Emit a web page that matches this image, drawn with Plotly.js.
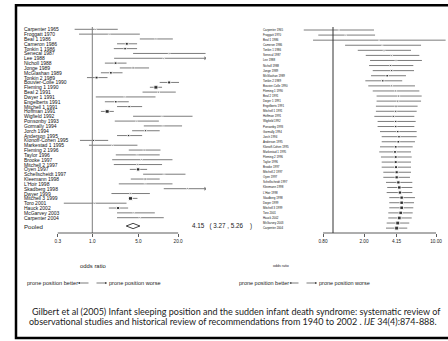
<!DOCTYPE html>
<html><head><meta charset="utf-8">
<script src="https://cdn.plot.ly/plotly-3.0.1.min.js"></script>
<style>html,body{margin:0;padding:0;background:#fff;}#chart{width:448px;height:341px;}</style>
</head><body><div id="chart"></div>
<script>
// ---------------- data ----------------
const studies = ["Carpenter 1965","Froggatt 1970","Beal 1 1986","Cameron 1986","Tonkin 1 1986","Senecal 1987","Lee 1988","Nicholl 1988","Jonge 1989","McGlashan 1989","Tonkin 2 1989","Bouvier-Colle 1990","Fleming 1 1990","Beal 2 1991","Dwyer 1 1991","Engelberts 1991","Mitchell 1 1991","Hoffman 1991","Wigfield 1992","Ponsonby 1993","Gormally 1994","Jorch 1994","Anderson 1995","Klonoff-Cohen 1995","Markestad 1 1995","Fleming 2 1996","Taylor 1996","Brooke 1997","Mitchell 2 1997","Oyen 1997","Schellscheidt 1997","Kleemann 1998","L'Hoir 1998","Skadberg 1998","Dwyer 1999","Mitchell 3 1999","Toro 2001","Hauck 2002","McGarvey 2003","Carpenter 2004"];
// individual study odds ratios (left panel)
const orStudy = [1.13,1.80,9.2,3.33,3.14,14.6,12.1,2.25,4.15,1.91,1.16,14.6,9.2,10.1,3.11,2.27,3.61,1.68,11.4,4.67,11.8,6.40,3.54,1.04,2.02,6.10,4.77,5.56,4.83,4.94,12.2,6.31,6.31,27.7,3.79,3.79,1.08,2.46,4.25,5.25];
const loStudy = [0.54,0.63,5.25,2.37,2.12,4.15,2.14,1.55,2.61,1.35,0.83,10.5,7.45,5.77,1.13,1.55,2.37,1.35,4.15,2.19,6.03,4.01,2.37,0.65,0.89,3.57,2.27,2.00,2.12,3.70,5.89,3.83,2.52,12.1,1.95,3.50,0.37,1.78,2.37,2.37];
const hiStudy = [2.43,5.25,16.6,4.77,4.77,52,70,3.30,7.24,2.87,1.70,20.6,11.4,18.4,9.07,3.57,5.69,2.12,33,10.2,22.9,10.5,5.69,1.74,4.83,10.8,10.5,16.4,11.4,6.77,25.8,10.5,16.4,65,7.45,4.83,3.30,3.49,8.85,12.1];
// pooled estimate [OR, lower, upper]
const pooledEst = [4.15, 3.27, 5.26];
// cumulative meta-analysis (right panel)
const orCum = [1.14,1.33,2.80,3.01,3.13,3.71,4.09,3.63,3.71,3.36,3.04,3.71,4.06,4.34,4.25,4.09,4.06,3.85,4.06,4.06,4.25,4.37,4.31,4.06,4.00,4.06,4.06,4.09,4.15,4.15,4.31,4.40,4.47,4.64,4.64,4.64,4.54,4.40,4.25,4.15];
const loCum = [0.52,0.72,0.64,1.31,1.74,2.08,2.29,2.24,2.43,2.34,2.06,2.20,2.43,2.65,2.65,2.61,2.61,2.52,2.71,2.71,2.86,2.97,2.97,2.86,2.81,2.92,2.97,2.97,3.08,3.08,3.27,3.36,3.32,3.52,3.52,3.52,3.44,3.44,3.32,3.27];
const hiCum = [2.50,2.56,12.4,7.16,5.72,6.89,7.30,6.02,6.12,5.11,4.70,6.25,6.89,7.26,7.16,6.63,6.49,6.16,6.35,6.16,6.49,6.49,6.25,5.94,5.72,5.81,5.72,5.72,5.72,5.59,5.89,5.89,5.89,6.25,6.12,6.02,5.94,5.81,5.50,5.26];
const tickValsLeft = [0.3, 1, 5, 20];
const tickTextLeft = ["0.3","1.0","5.0","20.0"];
const tickValsRight = [0.8, 2, 4.15, 10];
const tickTextRight = ["0.80","2.00","4.15","10.00"];

// ---------------- layout helpers ----------------
const W = 448, H = 341;
const px = v => v / W;
const py = v => 1 - v / H;
const SANS = "Liberation Sans, Arial, sans-serif";
const n = studies.length;
const rows = studies.map((_, i) => i + 1);
const pooledRow = n + 1.72;

const leftRange = [-0.5652, 1.7227];
const rightRange = [-0.3204, 1.0971];
const clamp = (a, b, v) => Math.max(a, Math.min(b, v));

function ciXY(lo, hi) {
  const x = [], y = [];
  lo.forEach((l, i) => { x.push(l, hi[i], null); y.push(i + 1, i + 1, null); });
  return {x, y};
}
const ciL = ciXY(loStudy, hiStudy);
const ciR = ciXY(loCum, hiCum);
const leftMax = Math.pow(10, leftRange[1]);
const clippedRows = rows.filter((r, i) => hiStudy[i] > leftMax);

const grey = "#7c7c7c";
const traces = [
  {x: ciL.x, y: ciL.y, xaxis: "x", yaxis: "y", mode: "lines", line: {color: grey, width: 1}, hoverinfo: "skip"},
  {x: orStudy, y: rows, xaxis: "x", yaxis: "y", mode: "markers",
   marker: {symbol: "square", color: "#000", size: loStudy.map((l, i) => clamp(1.6, 4, 0.9 / Math.log10(hiStudy[i] / l)))}},
  {x: clippedRows.map(() => leftMax * 0.975), y: clippedRows, xaxis: "x", yaxis: "y", mode: "markers",
   marker: {symbol: "triangle-right", color: grey, size: 3.5}},
  {x: [pooledEst[1], pooledEst[0], pooledEst[2], pooledEst[0], pooledEst[1]],
   y: [pooledRow, pooledRow - 0.55, pooledRow, pooledRow + 0.55, pooledRow],
   xaxis: "x", yaxis: "y", mode: "lines", line: {color: "#111", width: 0.8}},
  {x: ciR.x, y: ciR.y, xaxis: "x2", yaxis: "y2", mode: "lines", line: {color: grey, width: 1}, hoverinfo: "skip"},
  {x: orCum, y: rows, xaxis: "x2", yaxis: "y2", mode: "markers",
   marker: {symbol: "square", color: "#000", size: loCum.map((l, i) => clamp(1, 4, 0.85 / Math.log10(hiCum[i] / l)))}}
];

const axisCommon = {type: "log", showgrid: false, zeroline: false, showline: false, ticks: "outside",
  ticklen: 3, tickwidth: 0.8, tickcolor: "#333", tickfont: {family: SANS, size: 4.7, color: "#222"}, fixedrange: true};
const yCommon = {visible: false, showgrid: false, zeroline: false, fixedrange: true};

const ann = [];
studies.forEach((s, i) => {
  ann.push({text: s, xref: "paper", yref: "y", x: px(24), y: i + 1, xanchor: "left", yanchor: "middle",
    showarrow: false, font: {family: SANS, size: 5, color: "#111"}, borderpad: 0, borderwidth: 0});
  ann.push({text: s, xref: "paper", yref: "y2", x: px(263), y: i + 1, xanchor: "left", yanchor: "middle",
    showarrow: false, font: {family: SANS, size: 2.9, color: "#111"}, borderpad: 0, borderwidth: 0});
});
ann.push({text: "Pooled", xref: "paper", yref: "y", x: px(24), y: pooledRow, xanchor: "left", yanchor: "middle",
  showarrow: false, font: {family: SANS, size: 6.1, color: "#222"}, borderpad: 0, borderwidth: 0});
const S = "\u00a0";
ann.push({text: pooledEst[0].toFixed(2) + S.repeat(3) + "(" + S + pooledEst[1].toFixed(2) + S + "," + S + pooledEst[2].toFixed(2) + S.repeat(4) + ")",
  xref: "paper", yref: "y", x: px(191.5), y: pooledRow, xanchor: "left", yanchor: "middle",
  showarrow: false, font: {family: SANS, size: 6.3, color: "#222"}, borderpad: 0, borderwidth: 0});
function txt(t, x, y, anchor, size, fam) {
  ann.push({text: t, xref: "paper", yref: "paper", x: px(x), y: py(y), xanchor: anchor, yanchor: "middle",
    showarrow: false, font: {family: fam || SANS, size: size, color: "#222"}, borderpad: 0, borderwidth: 0});
}
function arrow(xHead, xTail, y) {
  ann.push({text: "", xref: "paper", yref: "paper", x: px(xHead), y: py(y), ax: xTail - xHead, ay: 0,
    axref: "pixel", ayref: "pixel", showarrow: true, arrowhead: 2, arrowsize: 0.6, arrowwidth: 0.6, arrowcolor: "#222"});
}
txt("odds ratio", 93, 266, "center", 5.9);
txt("odds ratio", 281, 266, "center", 3.6);
txt("prone position better", 77.5, 283, "right", 5.6);
arrow(78, 90, 283); arrow(107, 95, 283);
txt("prone position worse", 109, 283, "left", 5.6);
txt("prone position better", 289, 283, "right", 5.5);
arrow(289.5, 300, 283); arrow(317, 305, 283);
txt("prone position worse", 318.5, 283, "left", 5.5);
const CAP = "Lato, Open Sans, sans-serif";
txt("Gilbert et al (2005) Infant sleeping position and the sudden infant death syndrome: systematic review of", 236.5, 311.7, "center", 9, CAP);
txt("observational studies and historical review of recommendations from 1940 to 2002 . <i>IJE</i> 34(4):874-888.", 233, 321.5, "center", 9, CAP);

const shapes = [
  {type: "line", xref: "x", yref: "y domain", x0: 1, x1: 1, y0: 0, y1: 1, line: {color: grey, width: 1}},
  {type: "line", xref: "x", yref: "y domain", x0: tickValsLeft[0], x1: tickValsLeft[tickValsLeft.length - 1], y0: 0, y1: 0, line: {color: "#333", width: 0.8}},
  {type: "line", xref: "x2", yref: "y2 domain", x0: 1, x1: 1, y0: 0, y1: 1, line: {color: "#333", width: 1}},
  {type: "line", xref: "x2", yref: "y2 domain", x0: tickValsRight[0], x1: tickValsRight[tickValsRight.length - 1], y0: 0, y1: 0, line: {color: "#333", width: 0.8}},
  {type: "rect", xref: "paper", yref: "paper", x0: px(16), x1: px(452), y0: py(338), y1: py(5.3), line: {color: "#000", width: 2.5}, fillcolor: "rgba(0,0,0,0)"}
];

const layout = {
  width: W, height: H, margin: {l: 0, r: 0, t: 0, b: 0}, paper_bgcolor: "#fff", plot_bgcolor: "rgba(0,0,0,0)",
  showlegend: false,
  xaxis: Object.assign({}, axisCommon, {domain: [px(55), px(206)], range: leftRange, anchor: "y", tickvals: tickValsLeft, ticktext: tickTextLeft}),
  yaxis: Object.assign({}, yCommon, {domain: [py(233), py(27)], range: [43.17, 0.524], anchor: "x"}),
  xaxis2: Object.assign({}, axisCommon, {domain: [px(300), px(446)], range: rightRange, anchor: "y2", tickvals: tickValsRight, ticktext: tickTextRight}),
  yaxis2: Object.assign({}, yCommon, {domain: [py(233), py(27)], range: [40.96, 0.409], anchor: "x2"}),
  annotations: ann, shapes: shapes
};
Plotly.newPlot("chart", traces, layout, {displayModeBar: false, staticPlot: true});
</script></body></html>
